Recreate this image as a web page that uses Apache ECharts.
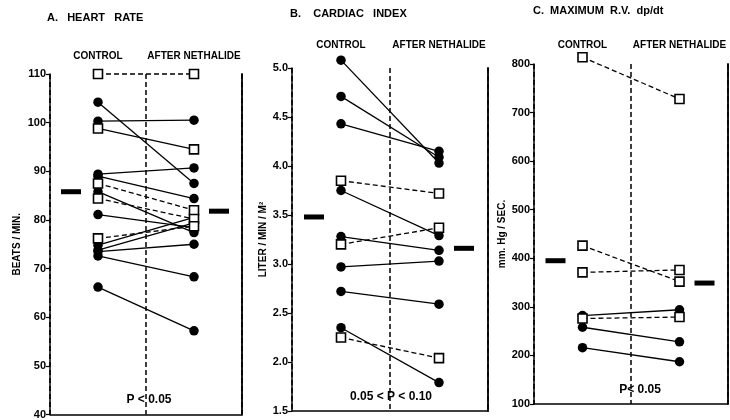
<!DOCTYPE html>
<html><head><meta charset="utf-8">
<script src="https://cdn.jsdelivr.net/npm/echarts@6/dist/echarts.min.js"></script>
<style>html,body{margin:0;padding:0;background:#fff}#c{width:730px;height:420px}</style>
</head><body><div id="c"></div>
<script>
// ---- data ----
var groups = ['CONTROL', 'AFTER NETHALIDE'];

// A. Heart rate (beats/min)
var hrControl = [110, 104.2, 100.3, 98.8, 89.4, 89.0, 87.5, 85.8, 84.4, 81.1, 76.2, 74.8, 73.8, 73.5, 72.6, 66.2];
var hrAfter   = [110, 87.5, 100.5, 94.5, 90.7, 84.4, 82.0, 77.4, 80.2, 78.4, 78.7, 80.5, 79.4, 75.0, 68.3, 57.2];
var hrOpen    = [1, 0, 0, 1, 0, 0, 1, 0, 1, 0, 1, 0, 0, 0, 0, 0];
var hrDashed  = [1, 0, 0, 0, 0, 0, 1, 0, 1, 0, 1, 0, 0, 0, 0, 0];
var hrMeans   = [85.8, 81.8];
var hrTicks   = {min: 40, max: 110, interval: 10};

// B. Cardiac index (liter/min/m2)
var ciControl = [5.08, 4.71, 4.43, 3.85, 3.75, 3.28, 3.20, 2.97, 2.72, 2.35, 2.25];
var ciAfter   = [4.03, 4.09, 4.15, 3.72, 3.29, 3.14, 3.37, 3.03, 2.59, 1.79, 2.04];
var ciOpen    = [0, 0, 0, 1, 0, 0, 1, 0, 0, 0, 1];
var ciDashed  = [0, 0, 0, 1, 0, 0, 1, 0, 0, 0, 1];
var ciMeans   = [3.48, 3.16];
var ciTicks   = {min: 1.5, max: 5.0, interval: 0.5};

// C. Maximum R.V. dp/dt (mm Hg/sec)
var dpControl = [814, 426, 371, 282, 276, 258, 216];
var dpAfter   = [728, 352, 376, 294, 279, 228, 187];
var dpOpen    = [1, 1, 1, 0, 1, 0, 0];
var dpDashed  = [1, 1, 1, 0, 1, 0, 0];
var dpMeans   = [395, 349];
var dpTicks   = {min: 100, max: 800, interval: 100};

var titles  = ['A.   HEART   RATE', 'B.    CARDIAC   INDEX', 'C.  MAXIMUM  R.V.  dp/dt'];
var yNames  = ['BEATS / MIN.', 'LITER / MIN / M\u00B2', 'mm. Hg / SEC.'];
var pLabels = ['P < 0.05', '0.05 < P < 0.10', 'P< 0.05'];

// ---- layout / style ----
var FONT = 'Liberation Sans';
var panels = [
  {ctrl: hrControl, after: hrAfter, open: hrOpen, dashed: hrDashed, means: hrMeans, ticks: hrTicks, dec: 0,
   grid: {left: 50, top: 74, width: 192, height: 341}, topMargin: 13, nameGap: 28,
   title: [47, 12], p: [149, 400]},
  {ctrl: ciControl, after: ciAfter, open: ciOpen, dashed: ciDashed, means: ciMeans, ticks: ciTicks, dec: 1,
   grid: {left: 292, top: 68, width: 196, height: 343}, topMargin: 18, nameGap: 24,
   title: [290, 8], p: [391, 397]},
  {ctrl: dpControl, after: dpAfter, open: dpOpen, dashed: dpDashed, means: dpMeans, ticks: dpTicks, dec: 0,
   grid: {left: 534, top: 64, width: 194, height: 340}, topMargin: 14, nameGap: 27,
   title: [533, 5], p: [640, 390]}
];

var grid = [], xAxis = [], yAxis = [], series = [], graphic = [];
panels.forEach(function (P, i) {
  grid.push(P.grid);
  xAxis.push({
    gridIndex: i, type: 'category', data: groups, boundaryGap: true, position: 'bottom',
    axisLine: {show: true, lineStyle: {color: '#000', width: 1.5}},
    axisTick: {show: false, interval: 0}, axisLabel: {show: false, interval: 0},
    splitLine: {show: true, interval: 0,
      lineStyle: {color: '#000', width: 1.5, type: [5, 3]}}
  });
  xAxis.push({
    gridIndex: i, type: 'category', data: groups, boundaryGap: true, position: 'top',
    axisLine: {show: false}, axisTick: {show: false}, splitLine: {show: false},
    axisLabel: {show: true, interval: 0, hideOverlap: false, margin: P.topMargin, color: '#000', fontFamily: FONT,
      fontWeight: 'bold', fontSize: 10}
  });
  yAxis.push({
    gridIndex: i, type: 'value', position: 'left',
    min: P.ticks.min, max: P.ticks.max, interval: P.ticks.interval,
    axisLine: {show: true, lineStyle: {color: '#000', width: 1.5}},
    axisTick: {show: true, length: 4, lineStyle: {color: '#000', width: 1.2}},
    axisLabel: {color: '#000', fontFamily: FONT, fontWeight: 'bold', fontSize: 11, margin: 4,
      formatter: (function (d) { return function (v) { return v.toFixed(d); }; })(P.dec)},
    splitLine: {show: false},
    name: yNames[i], nameLocation: 'middle', nameGap: P.nameGap, nameRotate: 90,
    nameTextStyle: {color: '#000', fontFamily: FONT, fontWeight: 'bold', fontSize: 10}
  });
  yAxis.push({
    gridIndex: i, type: 'value', position: 'right',
    min: P.ticks.min, max: P.ticks.max, interval: P.ticks.interval,
    axisLine: {show: true, lineStyle: {color: '#000', width: 1.8}},
    axisTick: {show: false}, axisLabel: {show: false}, splitLine: {show: false}
  });
  var xi = i * 2, yi = i * 2;
  P.ctrl.forEach(function (c, k) {
    var open = P.open[k];
    series.push({
      type: 'line', xAxisIndex: xi, yAxisIndex: yi, data: [c, P.after[k]],
      symbol: open ? 'rect' : 'circle', symbolSize: open ? 9 : 9.5,
      showSymbol: true, clip: false, silent: true, animation: false,
      z: open ? 3 : 2,
      lineStyle: {color: '#000', width: 1.3, type: P.dashed[k] ? [5, 3] : 'solid'},
      itemStyle: {color: open ? '#fff' : '#000', borderColor: '#000', borderWidth: open ? 1.6 : 0, opacity: 1}
    });
  });
  series.push({
    type: 'scatter', xAxisIndex: xi, yAxisIndex: yi, data: [[0, P.means[0]]],
    symbol: 'rect', symbolSize: [20, 5], symbolOffset: [-27, 0],
    itemStyle: {color: '#000', opacity: 1}, silent: true, animation: false, clip: false
  });
  series.push({
    type: 'scatter', xAxisIndex: xi, yAxisIndex: yi, data: [[1, P.means[1]]],
    symbol: 'rect', symbolSize: [20, 5], symbolOffset: [25, 0],
    itemStyle: {color: '#000', opacity: 1}, silent: true, animation: false, clip: false
  });
  graphic.push({type: 'text', left: P.title[0], top: P.title[1],
    style: {text: titles[i], fill: '#000', font: 'bold 11px "' + FONT + '"'}});
  graphic.push({type: 'text', x: P.p[0], y: P.p[1],
    style: {text: pLabels[i], fill: '#000', font: 'bold 12px "' + FONT + '"',
      align: 'center', verticalAlign: 'middle'}});
});

var chart = echarts.init(document.getElementById('c'), null, {renderer: 'canvas'});
chart.setOption({
  animation: false, backgroundColor: '#fff',
  grid: grid, xAxis: xAxis, yAxis: yAxis, series: series, graphic: graphic
});
</script></body></html>
